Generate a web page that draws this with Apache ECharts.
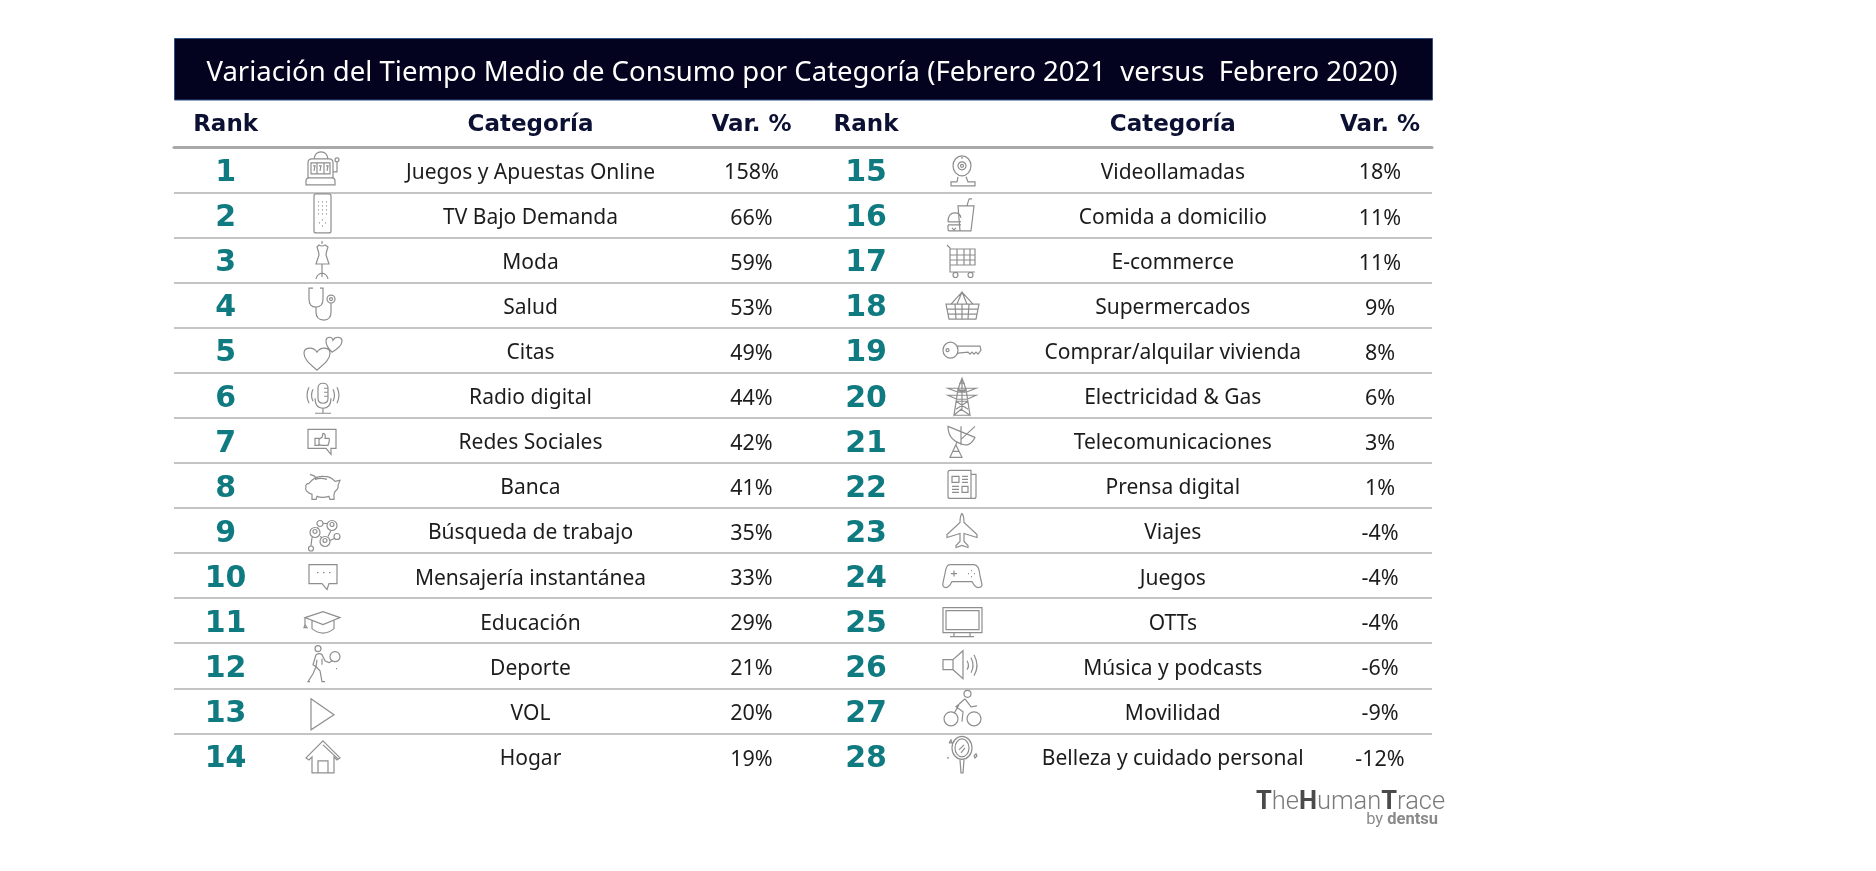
<!DOCTYPE html>
<html>
<head>
<meta charset="utf-8">
<style>html,body{margin:0;padding:0;background:#fff}#main{width:1876px;height:871px}</style>
<script src="https://cdn.jsdelivr.net/npm/echarts@6/dist/echarts.min.js"></script>
</head>
<body>
<div id="main"></div>
<script>
const titleText = 'Variación del Tiempo Medio de Consumo por Categoría (Febrero 2021  versus  Febrero 2020)'
const headers = ['Rank', 'Categoría', 'Var. %']
const ranks = [1, 2, 3, 4, 5, 6, 7, 8, 9, 10, 11, 12, 13, 14, 15, 16, 17, 18, 19, 20, 21, 22, 23, 24, 25, 26, 27, 28]
const categories = [
  'Juegos y Apuestas Online', 'TV Bajo Demanda', 'Moda', 'Salud', 'Citas', 'Radio digital', 'Redes Sociales',
  'Banca', 'Búsqueda de trabajo', 'Mensajería instantánea', 'Educación', 'Deporte', 'VOL', 'Hogar',
  'Videollamadas', 'Comida a domicilio', 'E-commerce', 'Supermercados', 'Comprar/alquilar vivienda',
  'Electricidad & Gas', 'Telecomunicaciones', 'Prensa digital', 'Viajes', 'Juegos', 'OTTs',
  'Música y podcasts', 'Movilidad', 'Belleza y cuidado personal'
]
const variation = [158, 66, 59, 53, 49, 44, 42, 41, 35, 33, 29, 21, 20, 19, 18, 11, 11, 9, 8, 6, 3, 1, -4, -4, -4, -6, -9, -12]

// icon outlines, one per rank, drawn around the centre of their cell
const icons = [
  'M-15 8V-7Q-15-11-11-11H6Q10-11 10-7V8M-17 15V11Q-17 8-14 8H9Q12 8 12 11V15ZM-9-11Q-8-18-2-18Q4-18 5-11M-12-7H7V4H-12ZM-6-7V4M1-7V4M-10-4H-8L-9 1M-4-4H-2L-3 1M3-4H5L4 1M10 2H14V-8M16-10A2 2 0 1 1 12-10A2 2 0 1 1 16-10',
  'M-9-19Q-9-21-7-21H6Q8-21 8-19V16Q8 18 6 18H-7Q-9 18-9 16ZM-5-13h1M-1-13h1M3-13h1M-5-9h1M-1-9h1M3-9h1M-5-5h1M-1-5h1M3-5h1M-5-1h1M-1-1h1M3-1h1M-1 5h1M-1 11h1M-4 8h1M2 8h1',
  'M-1-19V-16M-4-15Q-1-13 2-15L5-13Q3-7 3-5L6 4H-7L-4-5Q-4-7-6-13ZM-1 4V17M-1 13Q-6 14-7 19M-1 13Q4 14 5 19',
  'M-10-17H-14V-6Q-14 2-7 2Q0 2 0-6V-17H-3M-7 2V7Q-7 15 1 15Q8 15 8 7V-2M12-6A4 4 0 1 1 4-6A4 4 0 1 1 12-6M9.5-6A1.5 1.5 0 1 1 6.5-6A1.5 1.5 0 1 1 9.5-6',
  'M-6 20C-14 13-19 9-19 3C-19-3-10-4-6 2C-2-4 7-3 7 3C7 9 2 13-6 20ZM9 2C5-2 3-5 3-9C3-14 9-14 10-10C12-14 19-14 19-9C19-5 14-1 9 2Z',
  'M-5-7Q-5-12 0-12Q5-12 5-7V3Q5 8 0 8Q-5 8-5 3ZM1-7H5M1-3H5M1 1H5M-8 3Q-8 13 0 13Q8 13 8 3M0 13V18M-8 18H8M-10-6Q-13 0-10 6M-14-8Q-18 0-14 8M10-6Q13 0 10 6M14-8Q18 0 14 8',
  'M-15-11H13V8H8L8 14L3 8H-15ZM-8-2H-4V5H-8ZM-4-1L-1-3L0-7Q3-7 2-2H6Q7 0 5 5H-2L-4 4',
  'M-14-2Q-8-10 1-9Q8-9 12-4L17-5L15 0Q16 3 12 6L11 9L11 14H7L6 11Q-1 13-6 11L-7 14H-11L-11 9Q-19 6-17 1Q-18-1-14-2ZM-13-11Q-9-10-7-8M-8-6Q-2-8 4-6',
  'M-8 2m-5 0a5 5 0 1 0 10 0a5 5 0 1 0 -10 0M9-5m-5 0a5 5 0 1 0 10 0a5 5 0 1 0 -10 0M2 11m-5 0a5 5 0 1 0 10 0a5 5 0 1 0 -10 0M-3-7m-3 0a3 3 0 1 0 6 0a3 3 0 1 0 -6 0M14 6m-3 0a3 3 0 1 0 6 0a3 3 0 1 0 -6 0M-12 18m-2.500 0a2.500 2.500 0 1 0 5 0a2.500 2.500 0 1 0 -5 0M-4-2L-6-3M0-7H4M-11 7L-12 15M-3 6L-1 7M8 0L5 6M7 10L11 8M-10 1a2 2 0 1 0 4 0a2 2 0 1 0 -4 0M7-6a2 2 0 1 0 4 0a2 2 0 1 0 -4 0M0 10a2 2 0 1 0 4 0a2 2 0 1 0 -4 0',
  'M-14-11H14V8H6L4 14L-1 8H-14ZM-6-3h1.500M0-3h1.500M6-3h1.500',
  'M-18-3L0-9L17-3L0 4ZM-11 0V8Q0 17 11 8V0M-18-3V4M-18 4L-16 7L-19 7Z',
  'M-8-17a3 3 0 1 0 6 0a3 3 0 1 0 -6 0M-7-11Q-3-13-1-11L2-5L6-3M-7-11L-10-1L-7 1L-6-6M-7 1L-3 5L-1 16H2M-7 1L-10 8L-15 16H-13M-1-7V-1M7-9a5 5 0 1 0 10 0a5 5 0 1 0 -10 0M9-5L6-3M13 3h1',
  'M-12-12L11 4L-12 19Z',
  'M0-15L17 2L14 4L11 1V17H-11V1L-14 4L-17 2ZM0-11L15 3M-5 17V5H5V17',
  'M-9-4a9 10 0 1 0 18 0a9 10 0 1 0 -18 0M-4-4a4 4 0 1 0 8 0a4 4 0 1 0 -8 0M-1.500-4a1.500 1.500 0 1 0 3 0a1.500 1.500 0 1 0 -3 0M-1-12h2M-4 7L-5 12H-11V16H13V12H6L4 7',
  'M-4-9L-2 16H9L12-9ZM5-9L7-16M7-16L10-16M-4-9L12-9M-14 7Q-14-2-7-2Q-2-2-1 3M-14 7H-1M-14 10H-1M-14 10V14Q-14 16-12 16H-2M-10 13L-8 15L-6 13',
  'M-15-15L-12-12V12H13M-12-11H13V5H-12M-12-5H13M-12 0H13M-5-11V5M2-11V5M8-11V5M-9 15a2.500 2.500 0 1 0 5 0a2.500 2.500 0 1 0 -5 0M6 15a2.500 2.500 0 1 0 5 0a2.500 2.500 0 1 0 -5 0M-6 12H8',
  'M-16-1H17L14 14H-13ZM-11-1L0-13L11-1M-5-1L0-13L5-1M-15 4H16M-14 9H15M-7-1L-6 14M0-1V14M7-1L6 14',
  'M-4 0a7.500 8 0 1 1 -15 0a7.500 8 0 1 1 15 0ZM-16 0a1.500 1.500 0 1 0 3 0a1.500 1.500 0 1 0 -3 0M-5-4H18L19 0L16 4L14 2L12 4L10 2L8 4L6 2L-4 3',
  'M0-17L-4-6L-8 20L-1 14L8 20L4-6ZM-14-7H14L4-3H-4ZM-14 0H14L5 4H-5ZM-8 20H8M-4-6L4-3M4-6L-4-3M-6 6L6 14M6 6L-6 14M-6 6H6M-3-12H3M0-17V14',
  'M-14-14Q-14-1-2 3Q8 8 13-3ZM-14-14L13-3M-1-14L-1 5M13-14L-1-1M-5 2L-12 17H0L-6 5M-9 11H-3',
  'M-14-13Q-14-15-12-15H9V13H-12Q-14 13-14 11ZM9-11H14V11Q14 13 12 13H9M-10-9H-3V-3H-10ZM0-9H6M0-6H6M0-3H6M-10 1H-3M-10 4H-3M-10 7H-3M0 1H6V7H0Z',
  'M0-17Q2-15 2-8L15 4V7L2 3V11L6 15V17L0 15L-6 17V15L-2 11V3L-15 7V4L-2-8Q-2-15 0-17Z',
  'M-12-11H12Q17-11 18 0L20 9Q20 12 16 12Q13 12 10 6H-10Q-13 12-16 12Q-20 12-19 7L-17-2Q-16-11-12-11ZM-11-2H-5M-8-5V1M9-5h1M9 1h1M6-2h1M12-2h1',
  'M-19-13H20V12H-19ZM-16-10H17V9H-16ZM-8 12V16M8 12V16M-12 16H12',
  'M-19-6H-9L1-15V13L-9 4H-19ZM-9-6V4M5-5Q8 0 5 4M9-8Q13 0 9 7M12-11Q18 0 12 10',
  'M-18 8a7 7 0 1 0 14 0a7 7 0 1 0 -14 0M5 8a7 7 0 1 0 14 0a7 7 0 1 0 -14 0M2-17a3.500 3.500 0 1 0 7 0a3.500 3.500 0 1 0 -7 0M3-12L-6-4L1 1L0 11M3-12L9-4L15-5M-2-8L-8 3',
  'M-10-8a10 11.500 0 1 0 20 0a10 11.500 0 1 0 -20 0M-7-8a7 9 0 1 0 14 0a7 9 0 1 0 -14 0M-3-6L2-11M-1-3L3-8M-2 4L-1 17H1L2 4M-13-13l2-3l1 3l-3 0M12 0l2-2l1 2l-2 2ZM-15 2h2'
]

const gridBox = {left: 174, right: 1432, top: 147.3, rowHeight: 45.08}
const rowCount = 14
// horizontal centre of rank, icon, category and variation per half of the table
const columns = [[225.6, 323, 530.5, 751.5], [866, 962, 1172.8, 1380]]
const headerColumns = {225.6: 0, 530.5: 1, 751.5: 2, 866: 0, 1172.8: 1, 1380: 2}

const tableFont = '"Noto Sans", sans-serif'
const boldFont = '"DejaVu Sans", sans-serif'

const chart = echarts.init(document.getElementById('main'))

const renderRow = (params, api) => {
  const index = api.value(0)
  const row = index % rowCount
  const cols = columns[index < rowCount ? 0 : 1]
  const y = api.coord([cols[0], row])[1]
  const text = (x, value, font, fill, dy) => ({
    type: 'text',
    x,
    y: y + dy,
    style: {text: String(value), font, fill, align: 'center', verticalAlign: 'middle'}
  })
  return {
    type: 'group',
    children: [
      text(api.coord([cols[0], row])[0], ranks[index], `bold 30px ${boldFont}`, '#0f7a80', 3.5),
      {
        type: 'path',
        x: api.coord([cols[1], row])[0],
        y,
        shape: {pathData: icons[index]},
        style: {fill: 'none', stroke: '#8e8e8e', lineWidth: 1.2}
      },
      text(api.coord([cols[2], row])[0], categories[index], `21px ${tableFont}`, '#1c1c1c', 3),
      text(api.coord([cols[3], row])[0], `${variation[index]}%`, `21.500px ${tableFont}`, '#1c1c1c', 3.5)
    ]
  }
}

const option = {
  animation: false,
  title: {
    text: titleText,
    left: 797,
    top: 68,
    textAlign: 'center',
    textVerticalAlign: 'middle',
    textStyle: {color: '#ffffff', fontFamily: tableFont, fontSize: 27.5, fontWeight: 'normal'}
  },
  graphic: [
    {
      type: 'rect',
      z: -1,
      shape: {x: 174.5, y: 38.5, width: 1258, height: 61.500},
      style: {fill: '#03031f', stroke: '#2f4f85', lineWidth: 1}
    },
    {
      type: 'text',
      x: 1256,
      y: 790,
      style: {
        text: '{a|T}{b|he}{a|H}{b|uman}{a|T}{b|race}',
        rich: {
          a: {font: 'bold 25.500px Roboto, sans-serif', fill: '#4a4a4a'},
          b: {font: '300 25.500px Roboto, sans-serif', fill: '#7a7a7a'}
        }
      }
    },
    {
      type: 'text',
      x: 1438,
      y: 811,
      style: {
        text: '{c|by }{d|dentsu}',
        align: 'right',
        rich: {
          c: {font: '16.500px Roboto, sans-serif', fill: '#8a8a8a'},
          d: {font: 'bold 16.500px Roboto, sans-serif', fill: '#8a8a8a'}
        }
      }
    }
  ],
  grid: {
    left: gridBox.left,
    top: gridBox.top,
    width: gridBox.right - gridBox.left,
    height: gridBox.rowHeight * rowCount
  },
  xAxis: {
    type: 'value',
    position: 'top',
    min: gridBox.left,
    max: gridBox.right,
    splitLine: {show: false},
    axisTick: {show: false},
    axisLine: {show: true, lineStyle: {color: '#a9a9a9', width: 3}},
    axisLabel: {
      customValues: Object.keys(headerColumns).map(Number),
      formatter: (value) => headers[headerColumns[value]],
      margin: 22,
      verticalAlign: 'middle',
      fontFamily: boldFont,
      fontWeight: 'bold',
      fontSize: 23,
      color: '#0c1033',
      showMinLabel: true,
      showMaxLabel: true
    }
  },
  yAxis: {
    type: 'category',
    inverse: true,
    data: ranks.slice(0, rowCount),
    axisLine: {show: false},
    axisTick: {show: false},
    axisLabel: {show: false},
    splitLine: {show: true, showMinLine: false, showMaxLine: false, lineStyle: {color: '#c4c4c4', width: 2}}
  },
  series: [{
    type: 'custom',
    silent: true,
    clip: false,
    coordinateSystem: 'cartesian2d',
    renderItem: renderRow,
    encode: {x: 1, y: 2},
    data: ranks.map((rank, index) => [index, columns[index < rowCount ? 0 : 1][0], index % rowCount])
  }]
}

chart.setOption(option)
</script>
</body>
</html>
